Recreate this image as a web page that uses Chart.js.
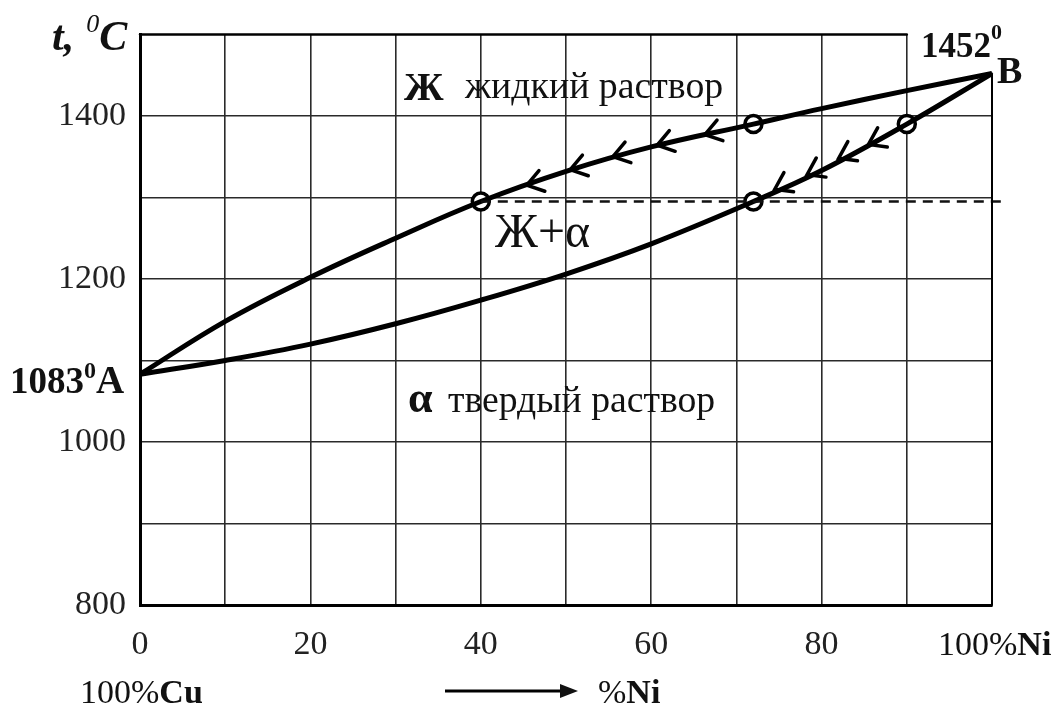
<!DOCTYPE html>
<html>
<head>
<meta charset="utf-8">
<script src="https://cdn.jsdelivr.net/npm/chart.js@4.4.0/dist/chart.umd.min.js"></script>
<style>
  body { margin: 0; background: #fff; }
  #wrap { width: 1058px; height: 710px; }
</style>
</head>
<body>
<div id="wrap"><canvas id="diagram"></canvas></div>
<script>
// Cu-Ni phase diagram
const nickelPct = [0, 10, 20, 30, 40, 50, 60, 72, 80, 90, 100];
const liquidusT = [1083, 1148, 1202, 1250, 1295, 1332, 1362, 1390, 1409, 1431, 1452];
const solidusT  = [1083, 1100, 1120, 1145, 1174, 1206, 1243, 1295, 1333, 1390, 1452];

// open circles on the cooling path
const pointPct = [40, 72, 72, 90];
const pointT = [1295, 1390, 1295, 1390];

// dashed tie line
const tiePct = [40, 101.5];
const tieT = [1295, 1295];

// arrow heads along the curves
const liqArrowPct = [66.3, 60.7, 55.5, 50.5, 45.4];
const liqArrowT = [1377, 1364, 1350, 1334, 1315];
const solArrowPct = [85.5, 82, 78.3, 74.5];
const solArrowT = [1365, 1348, 1328, 1310];

const xLabels = [0, 20, 40, 60, 80];
const yLabels = [800, 1000, 1200, 1400];

const SERIF = '"Liberation Serif", "DejaVu Serif", serif';

function xy(xs, ys) {
    return xs.map((x, i) => ({ x: x, y: ys[i] }));
}

// draw text pieces one after another on the same baseline
function drawRuns(ctx, x, y, parts) {
    let cx = x;
    parts.forEach(p => {
        ctx.font = p.font;
        ctx.fillText(p.text, cx, y + (p.dy || 0));
        cx += ctx.measureText(p.text).width + (p.gap || 0);
    });
}

// scale the font so the text spans the given width
function fitText(ctx, text, x, y, width, style, base) {
    ctx.font = style + ' ' + base + 'px ' + SERIF;
    const w = ctx.measureText(text).width;
    const size = base * width / w;
    ctx.font = style + ' ' + size.toFixed(1) + 'px ' + SERIF;
    ctx.fillText(text, x, y);
}

function chevron(ctx, px, py, dx, dy) {
    const len = 19, ang = 0.6;
    ctx.beginPath();
    [-ang, ang].forEach((a, i) => {
        const c = Math.cos(a), s = Math.sin(a);
        const rx = dx * c - dy * s, ry = dx * s + dy * c;
        if (i === 0) {
            ctx.moveTo(px - rx * len, py - ry * len);
            ctx.lineTo(px, py);
        } else {
            ctx.lineTo(px - rx * len, py - ry * len);
        }
    });
    ctx.stroke();
}

const decorations = {
    id: 'decorations',
    afterDatasetsDraw(chart) {
        const ctx = chart.ctx;
        const xs = chart.scales.x, ys = chart.scales.y;
        ctx.save();
        ctx.strokeStyle = '#000';
        ctx.lineCap = 'round';

        // partial top and right frame
        ctx.lineWidth = 2.5;
        ctx.beginPath();
        ctx.moveTo(xs.getPixelForValue(0), ys.getPixelForValue(1500));
        ctx.lineTo(xs.getPixelForValue(90), ys.getPixelForValue(1500));
        ctx.stroke();
        ctx.lineWidth = 2;
        ctx.beginPath();
        ctx.moveTo(xs.getPixelForValue(100), ys.getPixelForValue(1452));
        ctx.lineTo(xs.getPixelForValue(100), ys.getPixelForValue(800));
        ctx.stroke();

        // arrows along the curves
        ctx.lineWidth = 3.5;
        const paths = [
            [liqArrowPct, liqArrowT, pointPct[1], pointT[1], pointPct[0], pointT[0]],
            [solArrowPct, solArrowT, pointPct[3], pointT[3], pointPct[2], pointT[2]]
        ];
        paths.forEach(([ax, at, x0, t0, x1, t1]) => {
            const ddx = xs.getPixelForValue(x1) - xs.getPixelForValue(x0);
            const ddy = ys.getPixelForValue(t1) - ys.getPixelForValue(t0);
            const n = Math.hypot(ddx, ddy);
            ax.forEach((v, i) => {
                chevron(ctx, xs.getPixelForValue(v), ys.getPixelForValue(at[i]), ddx / n, ddy / n);
            });
        });
        ctx.restore();
    },
    afterDraw(chart) {
        const ctx = chart.ctx;
        ctx.save();
        ctx.fillStyle = '#111';
        ctx.textAlign = 'left';
        ctx.textBaseline = 'alphabetic';

        // axis title
        drawRuns(ctx, 52, 50, [
            { text: 't,', font: 'italic bold 42px ' + SERIF, gap: 12 },
            { text: '0', font: 'italic 26px ' + SERIF, dy: -18 },
            { text: 'C', font: 'italic bold 42px ' + SERIF }
        ]);

        // melting points
        drawRuns(ctx, 10, 393, [
            { text: '1083', font: 'bold 37px ' + SERIF },
            { text: '0', font: 'bold 24px ' + SERIF, dy: -15 },
            { text: 'A', font: 'bold 39px ' + SERIF }
        ]);
        drawRuns(ctx, 921, 57, [
            { text: '1452', font: 'bold 35px ' + SERIF },
            { text: '0', font: 'bold 22px ' + SERIF, dy: -18 }
        ]);
        ctx.font = 'bold 38px ' + SERIF;
        ctx.fillText('B', 997, 83);

        // region labels
        ctx.font = 'bold 40px ' + SERIF;
        ctx.fillText('Ж', 404, 100);
        fitText(ctx, 'жидкий раствор', 465, 98, 258, 'normal', 32);
        fitText(ctx, 'Ж+α', 495, 247, 95, 'normal', 38);
        ctx.font = 'bold 44px ' + SERIF;
        ctx.fillText('α', 408, 412);
        fitText(ctx, 'твердый раствор', 448, 412, 267, 'normal', 32);

        // end of x axis
        drawRuns(ctx, 938, 655, [
            { text: '100%', font: '34px ' + SERIF },
            { text: 'Ni', font: 'bold 34px ' + SERIF }
        ]);

        // composition direction
        drawRuns(ctx, 80, 703, [
            { text: '100%', font: '34px ' + SERIF },
            { text: 'Cu', font: 'bold 34px ' + SERIF }
        ]);
        ctx.strokeStyle = '#000';
        ctx.lineWidth = 3;
        ctx.beginPath();
        ctx.moveTo(445, 691);
        ctx.lineTo(562, 691);
        ctx.stroke();
        ctx.beginPath();
        ctx.moveTo(578, 691);
        ctx.lineTo(560, 684);
        ctx.lineTo(560, 698);
        ctx.closePath();
        ctx.fill();
        drawRuns(ctx, 598, 703, [
            { text: '%', font: '34px ' + SERIF },
            { text: 'Ni', font: 'bold 34px ' + SERIF }
        ]);
        ctx.restore();
    }
};

const gridColor = (hidden) => (c) => (c.tick && c.tick.value === hidden) ? 'rgba(0,0,0,0)' : '#2a2a2a';

new Chart(document.getElementById('diagram'), {
    type: 'line',
    data: {
        datasets: [
            {
                label: 'tie',
                data: xy(tiePct, tieT),
                borderColor: '#111',
                borderWidth: 2.5,
                borderDash: [10, 7],
                pointRadius: 0,
                clip: false
            },
            {
                label: 'liquidus',
                data: xy(nickelPct, liquidusT),
                borderColor: '#000',
                borderWidth: 5,
                tension: 0.4,
                pointRadius: 0
            },
            {
                label: 'solidus',
                data: xy(nickelPct, solidusT),
                borderColor: '#000',
                borderWidth: 5,
                tension: 0.4,
                pointRadius: 0
            },
            {
                label: 'points',
                data: xy(pointPct, pointT),
                showLine: false,
                pointRadius: 8.5,
                pointBackgroundColor: '#fff',
                pointBorderColor: '#000',
                pointBorderWidth: 3.5
            }
        ]
    },
    options: {
        responsive: true,
        maintainAspectRatio: false,
        animation: false,
        layout: { padding: { top: 32, right: 66, left: 0, bottom: 0 } },
        plugins: {
            legend: { display: false },
            tooltip: { enabled: false }
        },
        scales: {
            x: {
                type: 'linear',
                min: 0,
                max: 100,
                afterFit: (s) => { s.height = 105; },
                ticks: {
                    stepSize: 10,
                    maxRotation: 0,
                    autoSkip: false,
                    padding: 20,
                    color: '#222',
                    font: { family: SERIF, size: 34 },
                    callback: (v) => xLabels.includes(v) ? String(v) : ''
                },
                grid: { color: gridColor(100), lineWidth: 1.6, drawTicks: false },
                border: { color: '#000', width: 3 }
            },
            y: {
                min: 800,
                max: 1500,
                afterFit: (s) => { s.width = 140; },
                ticks: {
                    stepSize: 100,
                    autoSkip: false,
                    padding: 14,
                    color: '#222',
                    font: { family: SERIF, size: 34 },
                    callback: (v) => yLabels.includes(v) ? String(v) : ''
                },
                grid: { color: gridColor(1500), lineWidth: 1.6, drawTicks: false },
                border: { color: '#000', width: 3 }
            }
        }
    },
    plugins: [decorations]
});
</script>
</body>
</html>
